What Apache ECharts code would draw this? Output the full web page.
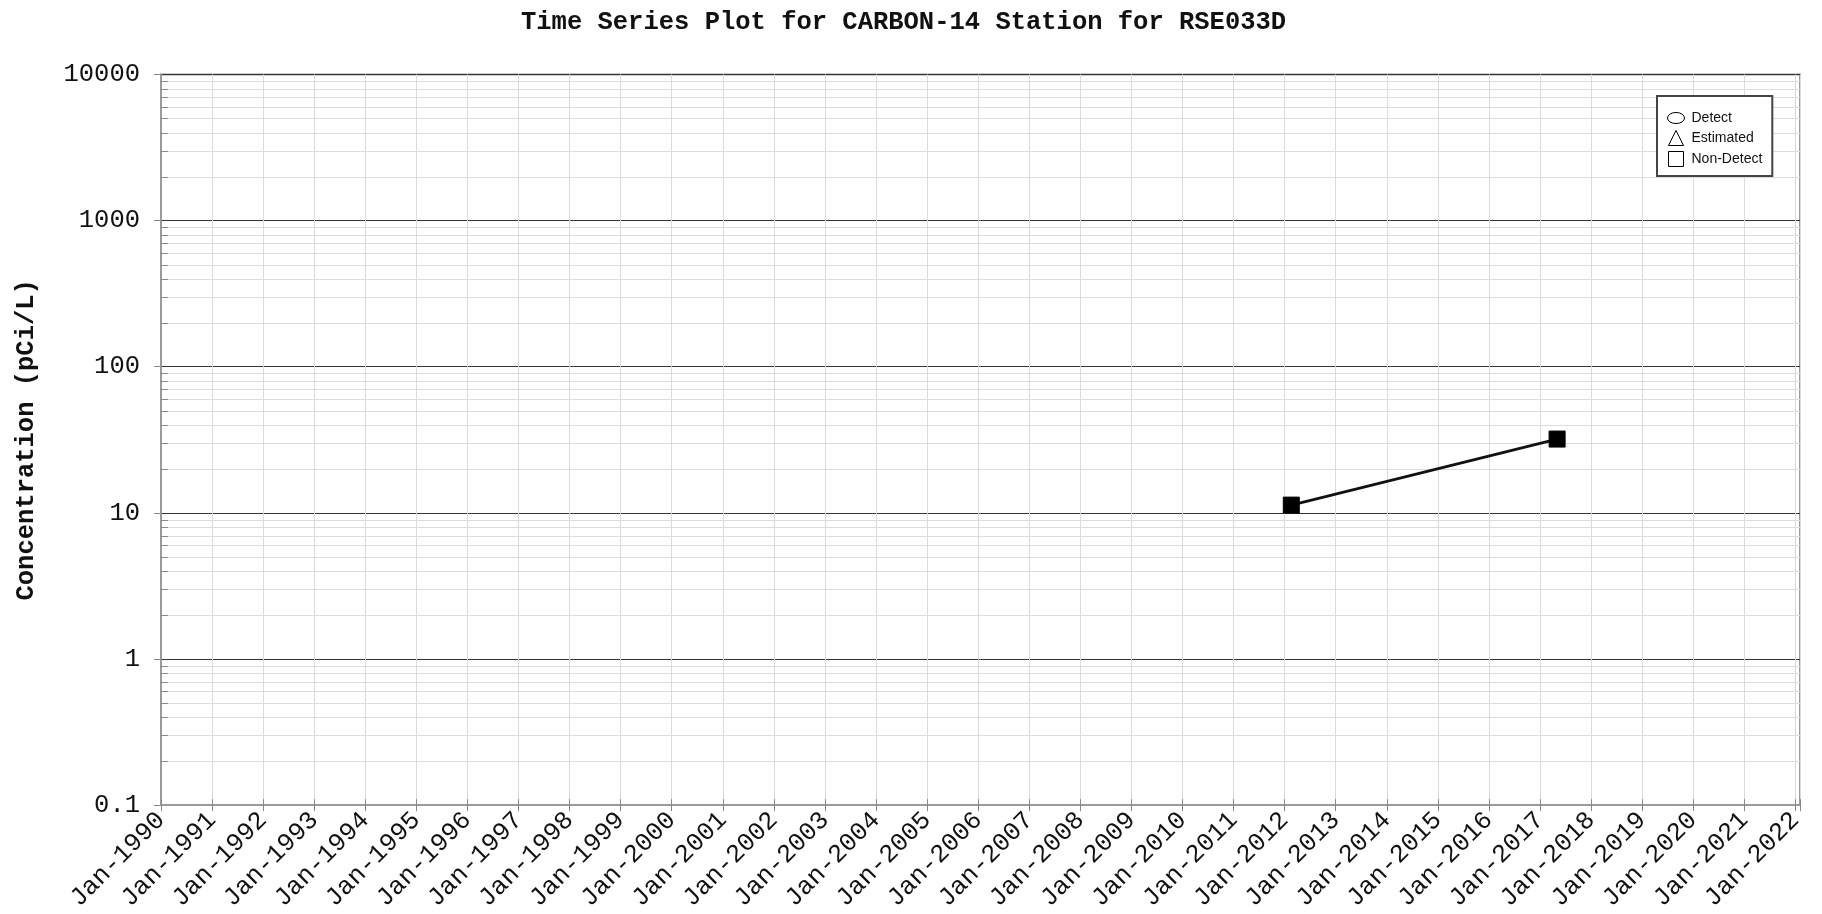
<!DOCTYPE html>
<html>
<head>
<meta charset="utf-8">
<script src="https://cdn.jsdelivr.net/npm/echarts@6/dist/echarts.min.js"></script>
<style>
  html, body { margin: 0; padding: 0; background: #fff; }
  #chart { width: 1822px; height: 914px; }
</style>
</head>
<body>
<div id="chart"></div>
<script>
// Labels
const chartTitle = 'Time Series Plot for CARBON-14 Station for RSE033D';
const yAxisTitle = 'Concentration (pCi/L)';
const legendNames = ['Detect', 'Estimated', 'Non-Detect'];

// Axis ranges
const xStart = '1990-01-01';
const xEnd = '2022-02-03';
const yMin = 0.1;
const yMax = 10000;

// Samples by result qualifier
const detectDates = [];
const detectValues = [];
const estimatedDates = [];
const estimatedValues = [];
const nonDetectDates = ['2012-02-18', '2017-05-03'];
const nonDetectValues = [11.3, 32];

// Minor log gridlines (2..9 within every decade)
const minorMultipliers = [2, 3, 4, 5, 6, 7, 8, 9];
const decadeStarts = [0.1, 1, 10, 100, 1000];

const toPairs = (dates, vals) => dates.map((d, i) => [d, vals[i]]);
const parseLocal = s => { const p = s.split('-').map(Number); return new Date(p[0], p[1] - 1, p[2]).getTime(); };
const xMinTs = parseLocal(xStart);
const xMaxTs = parseLocal(xEnd);
const minorValues = decadeStarts.flatMap(d => minorMultipliers.map(m => +(d * m).toPrecision(3)));

const YEAR_MS = 365 * 24 * 3600 * 1000;
const monoFont = '"Liberation Mono", "DejaVu Sans Mono", monospace';

function yearLabel(v) {
  const d = new Date(v);
  if (d.getMonth() !== 0 || d.getDate() !== 1) return '';
  return 'Jan-' + d.getFullYear();
}

const chart = echarts.init(document.getElementById('chart'), null, { renderer: 'canvas' });

chart.setOption({
  backgroundColor: '#ffffff',
  animation: false,
  title: {
    text: chartTitle,
    left: 516,
    top: 5,
    textStyle: { fontFamily: monoFont, fontSize: 25.5, fontWeight: 'bold', color: '#111' }
  },
  legend: {
    orient: 'vertical',
    left: 1657,
    top: 96,
    padding: [15, 10, 9, 10],
    itemWidth: 17,
    itemHeight: 15,
    itemGap: 5,
    backgroundColor: '#ffffff',
    borderColor: '#444',
    borderWidth: 2,
    borderRadius: 0,
    selectedMode: false,
    textStyle: { fontFamily: '"Liberation Sans", Arial, sans-serif', fontSize: 14, color: '#111', padding: [0, 0, 0, 2] },
    data: [
      { name: legendNames[0], icon: 'path://M0,8a10,6.5 0 1,0 20,0a10,6.5 0 1,0 -20,0z', itemStyle: { color: '#fff', borderColor: '#000', borderWidth: 1 } },
      { name: legendNames[1], icon: 'path://M8,0L16,16L0,16z', itemStyle: { color: '#fff', borderColor: '#000', borderWidth: 1 } },
      { name: legendNames[2], icon: 'path://M0,0L16,0L16,16L0,16z', itemStyle: { color: '#fff', borderColor: '#000', borderWidth: 1 } }
    ]
  },
  grid: {
    left: 161,
    top: 74.5,
    width: 1639,
    height: 734,
    show: true,
    borderColor: '#9a9a9a',
    borderWidth: 2,
    backgroundColor: 'transparent',
    containLabel: false
  },
  xAxis: [
    {
      type: 'time',
      min: xStart,
      max: xEnd,
      minInterval: YEAR_MS,
      maxInterval: YEAR_MS * 1.01,
      axisLine: { show: true, lineStyle: { color: '#9a9a9a', width: 2 } },
      axisTick: { show: true, length: 6, lineStyle: { color: '#888' } },
      splitLine: { show: true, lineStyle: { color: '#dadada', width: 1 } },
      axisLabel: {
        formatter: yearLabel,
        rotate: 45,
        margin: 11,
        fontFamily: monoFont,
        fontSize: 25.5,
        color: '#111',
        hideOverlap: false,
        showMinLabel: true,
        showMaxLabel: true
      }
    },
    {
      type: 'time',
      position: 'bottom',
      min: xStart,
      max: xEnd,
      minInterval: YEAR_MS,
      maxInterval: YEAR_MS * 1.01,
      axisLine: { show: false },
      axisTick: { show: true, inside: true, length: 6, lineStyle: { color: '#888' } },
      splitLine: { show: false },
      axisLabel: { show: false }
    }
  ],
  yAxis: {
    type: 'log',
    logBase: 10,
    min: yMin,
    max: yMax,
    name: yAxisTitle,
    nameLocation: 'middle',
    nameGap: 121,
    nameTextStyle: { fontFamily: monoFont, fontSize: 25.5, fontWeight: 'bold', color: '#111' },
    axisLine: { show: true, lineStyle: { color: '#9a9a9a', width: 2 } },
    axisTick: { show: true, length: 7, lineStyle: { color: '#888' } },
    splitLine: { show: true, lineStyle: { color: '#333', width: 1 } },
    minorTick: { show: false },
    minorSplitLine: { show: false },
    axisLabel: {
      margin: 21,
      fontFamily: monoFont,
      fontSize: 25.5,
      color: '#111',
      formatter: v => String(+v.toPrecision(6))
    }
  },
  series: [
    {
      name: 'minor-grid',
      type: 'custom',
      silent: true,
      z: 1,
      xAxisIndex: 0,
      data: minorValues.map(v => [xStart, v]),
      renderItem: function (params, api) {
        const a = api.coord([xMinTs, api.value(1)]);
        const b = api.coord([xMaxTs, api.value(1)]);
        const y = Math.round(a[1]) + 0.5;
        return {
          type: 'group',
          children: [
            { type: 'line', shape: { x1: a[0], y1: y, x2: b[0], y2: y }, style: { stroke: '#dcdcdc', lineWidth: 1 } },
            { type: 'line', shape: { x1: a[0], y1: y, x2: a[0] + 7, y2: y }, style: { stroke: '#8a8a8a', lineWidth: 1 } }
          ]
        };
      }
    },
    {
      name: legendNames[0],
      type: 'line',
      data: toPairs(detectDates, detectValues),
      symbol: 'emptyCircle',
      symbolSize: 16,
      itemStyle: { color: '#000' },
      lineStyle: { color: '#000', width: 2.5 }
    },
    {
      name: legendNames[1],
      type: 'line',
      data: toPairs(estimatedDates, estimatedValues),
      symbol: 'triangle',
      symbolSize: 16,
      itemStyle: { color: '#000' },
      lineStyle: { color: '#000', width: 2.5 }
    },
    {
      name: legendNames[2],
      type: 'line',
      z: 5,
      data: toPairs(nonDetectDates, nonDetectValues),
      symbol: 'rect',
      symbolSize: 16,
      showAllSymbol: true,
      itemStyle: { color: '#000', borderColor: '#000' },
      lineStyle: { color: '#111', width: 2.8 }
    }
  ]
});
</script>
</body>
</html>
